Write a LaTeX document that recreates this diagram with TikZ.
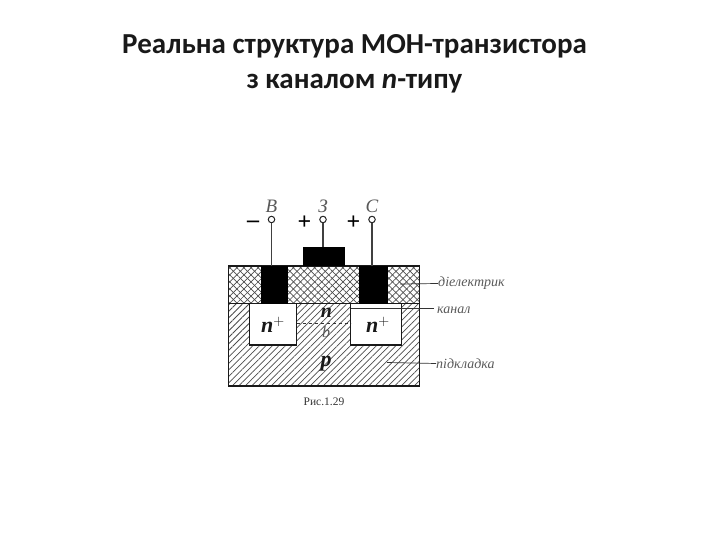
\documentclass[tikz,border=0pt]{standalone}
\usepackage{fontspec}
\setmainfont{Carlito}
\newfontfamily\labelfont{Liberation Serif}
\usetikzlibrary{patterns.meta,positioning}

\begin{document}
\begin{tikzpicture}[
  x=1pt, y=-1pt,
  every node/.style={inner sep=0pt},
  title/.style={font=\bfseries\fontsize{29}{35}\selectfont, align=center, text=black!90},
  hatched/.style={pattern={Lines[angle=45,distance=4.6pt,line width=0.75pt]}, pattern color=black!70},
  crossed/.style={pattern={Lines[angle=45,distance=5pt,line width=0.7pt]}, pattern color=black!70},
  crossedb/.style={pattern={Lines[angle=-45,distance=5pt,line width=0.7pt]}, pattern color=black!70},
  outline/.style={draw=black!90, line width=1.4pt},
  metal/.style={fill=black},
  term/.style={circle, draw=black!85, line width=1pt, fill=white, minimum size=6.5pt},
  wire/.style={draw=black!75, line width=1.1pt},
  lead/.style={draw=black!80, line width=0.7pt},
  pin/.style={font=\labelfont\itshape\fontsize{19}{19}\selectfont, text=black!65},
  sign/.style={font=\labelfont\bfseries\fontsize{24}{24}\selectfont},
  zone/.style={font=\labelfont\bfseries\itshape\fontsize{22}{22}\selectfont, text=black!90},
  side/.style={font=\labelfont\itshape\fontsize{14}{14}\selectfont, text=black!65, anchor=west}
]
\useasboundingbox (0,0) rectangle (720,540);

\node[title] (head) at (354.5,63.5) {Реальна структура МОН-транзистора\\з каналом \textit{n}-типу};

% substrate and dielectric
\fill[hatched] (228.5,303.5) rectangle (419.5,386);
\fill[crossed] (228.5,266) rectangle (419.5,303.5);
\fill[crossedb] (228.5,266) rectangle (419.5,303.5);

% drain and source wells
\draw[outline, fill=white] (249.5,303.5) rectangle (296.5,345);
\draw[outline, fill=white] (350.5,303.5) rectangle (401.5,345);
\draw[outline] (228.5,266) rectangle (419.5,386);
\draw[outline] (228.5,303.5) -- (419.5,303.5);

% metal
\fill[metal] (302.5,247) rectangle (345,266);
\fill[metal] (260.5,266) rectangle (287.5,303.5);
\fill[metal] (359,266) rectangle (387.5,303.5);

\coordinate (padb) at (271.5,266);
\coordinate (padz) at (323,247);
\coordinate (padc) at (372,266);
\node[term] (termb) at (271.5,219.5) {};
\node[term] (termz) at (323,219.5) {};
\node[term] (termc) at (372,219.5) {};
\draw[wire] (termb) -- (padb);
\draw[wire] (termz) -- (padz);
\draw[wire] (termc) -- (padc);

\node[pin, above=3pt of termb] (labb) {В};
\node[pin, above=3pt of termz] (labz) {З};
\node[pin, above=3pt of termc] (labc) {С};
\node[sign] (minus) at (253,224) {–};
\node[sign] (plusz) at (304.5,222.5) {+};
\node[sign] (plusc) at (353.5,222.5) {+};

% channel
\coordinate (chl) at (296.5,323.5);
\coordinate (chr) at (350.5,323.5);
\draw[lead, dashed] (chl) -- (chr);
\node[zone, font=\labelfont\bfseries\itshape\fontsize{20}{20}\selectfont] (ntop) at (326.5,313) {n};
\node[pin, font=\labelfont\itshape\fontsize{16}{16}\selectfont] (bot) at (326,332) {b};
\node[zone] (nl) at (273,325) {n$^{+}$};
\node[zone] (nr) at (378,325) {n$^{+}$};
\node[zone] (psub) at (326,364) {p};

% side labels
\node[side] (diel) at (438,283.5) {діелектрик};
\node[side] (chan) at (437,310) {канал};
\node[side] (subs) at (436,363.5) {підкладка};
\coordinate (pdiel) at (400,284);
\coordinate (pchan) at (350.5,308.5);
\coordinate (lchan) at (434,308.5);
\coordinate (psubs) at (387,362.5);
\draw[lead] (diel.west) -- (pdiel);
\draw[lead] (lchan) -- (pchan);
\draw[lead] (subs.west) -- (psubs);

\node[font=\labelfont\fontsize{11.5}{12}\selectfont, text=black!80] (cap) at (324,402) {Рис.1.29};
\end{tikzpicture}
\end{document}
